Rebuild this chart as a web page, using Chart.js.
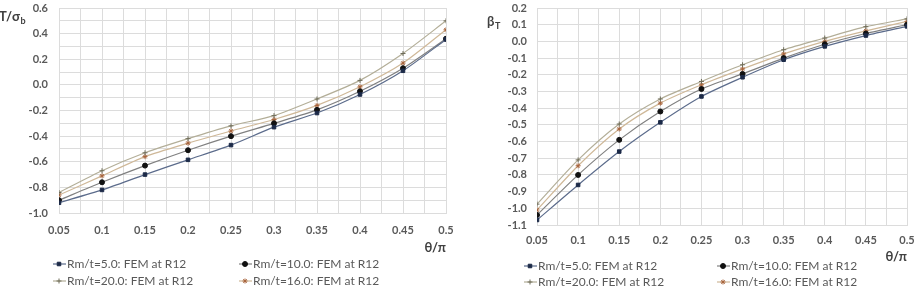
<!DOCTYPE html>
<html>
<head>
<meta charset="utf-8">
<script src="https://cdn.jsdelivr.net/npm/chart.js@4"></script>
<style>
  html, body { margin: 0; padding: 0; background: #ffffff; }
  #wrap { position: relative; width: 922px; height: 292px; overflow: hidden; }
  #c1box { position: absolute; left: 0; top: 0; width: 460px; height: 292px; }
  #c2box { position: absolute; left: 460px; top: 0; width: 462px; height: 292px; }
</style>
</head>
<body>
<div id="wrap">
  <div id="c1box"><canvas id="c1" width="460" height="292"></canvas></div>
  <div id="c2box"><canvas id="c2" width="462" height="292"></canvas></div>
</div>
<script>
// ---- data ----
const theta = [0.05, 0.1, 0.15, 0.2, 0.25, 0.3, 0.35, 0.4, 0.45, 0.5];
const seriesNames = ['Rm/t=5.0: FEM at R12', 'Rm/t=10.0: FEM at R12', 'Rm/t=20.0: FEM at R12', 'Rm/t=16.0: FEM at R12'];

// left chart: T/σb
const tau5  = [-0.92, -0.82, -0.70, -0.585, -0.47, -0.33, -0.22, -0.075, 0.11, 0.355];
const tau10 = [-0.90, -0.76, -0.63, -0.51, -0.40, -0.30, -0.195, -0.05, 0.13, 0.36];
const tau20 = [-0.84, -0.67, -0.53, -0.42, -0.32, -0.24, -0.11, 0.035, 0.245, 0.50];
const tau16 = [-0.86, -0.71, -0.56, -0.455, -0.36, -0.27, -0.16, -0.015, 0.17, 0.43];

// right chart: βT
const beta5  = [-1.07, -0.86, -0.66, -0.485, -0.33, -0.215, -0.11, -0.03, 0.035, 0.09];
const beta10 = [-1.04, -0.80, -0.59, -0.42, -0.285, -0.195, -0.10, -0.017, 0.047, 0.10];
const beta20 = [-0.975, -0.71, -0.495, -0.345, -0.24, -0.14, -0.05, 0.02, 0.088, 0.135];
const beta16 = [-1.01, -0.745, -0.525, -0.37, -0.26, -0.165, -0.075, 0.0, 0.063, 0.12];

// ---- styles ----
const styles = [
  { line: '#5b6b8b', point: '#1c2a48', pointStyle: 'rect',   radius: 2.5 },
  { line: '#808080', point: '#111111', pointStyle: 'circle', radius: 2.5 },
  { line: '#b3ae98', point: '#6f6c58', pointStyle: 'cross',  radius: 2.5 },
  { line: '#cfb898', point: '#a8643c', pointStyle: 'star',   radius: 2.5 }
];
const GRID = '#dcdcdc';
const TICK = '#595959';
const FONT = 'Lato, "Open Sans", "DejaVu Sans", sans-serif';

function mk(xs, ys) { return xs.map((x, i) => ({ x: x, y: ys[i] })); }

function datasets(arrs) {
  return arrs.map((a, i) => ({
    label: seriesNames[i],
    data: mk(theta, a),
    borderColor: styles[i].line,
    backgroundColor: styles[i].point,
    pointBackgroundColor: styles[i].point,
    pointBorderColor: styles[i].point,
    pointStyle: styles[i].pointStyle,
    pointRadius: styles[i].radius,
    pointBorderWidth: 1,
    borderWidth: 1.2,
    tension: 0.25,
    fill: false
  }));
}

// custom legend + y-axis label plugin
const decor = {
  id: 'decor',
  afterDraw(chart, args, opts) {
    const ctx = chart.ctx;
    ctx.save();
    ctx.fillStyle = '#404040';
    ctx.textBaseline = 'alphabetic';
    ctx.textAlign = 'left';
    ctx.font = 'bold 13px ' + FONT;
    ctx.fillText(opts.yMain, opts.yLabelX, opts.yLabelY);
    const w = ctx.measureText(opts.yMain).width;
    ctx.font = 'bold 9px ' + FONT;
    ctx.fillText(opts.ySub, opts.yLabelX + w + 0.5, opts.yLabelY + 3);
    chart.data.datasets.forEach((ds, i) => {
      const cx = opts.cols[i % 2];
      const cy = opts.rows[Math.floor(i / 2)];
      ctx.strokeStyle = ds.borderColor;
      ctx.lineWidth = 1.2;
      ctx.beginPath();
      ctx.moveTo(cx - 6, cy);
      ctx.lineTo(cx + 7, cy);
      ctx.stroke();
      ctx.fillStyle = ds.pointBackgroundColor;
      ctx.strokeStyle = ds.pointBorderColor;
      ctx.lineWidth = 1;
      Chart.helpers.drawPoint(ctx, { pointStyle: ds.pointStyle, radius: ds.pointRadius, borderWidth: 1, rotation: 0 }, cx, cy);
      ctx.fillStyle = TICK;
      ctx.font = '12px ' + FONT;
      ctx.textAlign = 'left';
      ctx.textBaseline = 'middle';
      ctx.fillText(ds.label, cx + 8, cy);
    });
    ctx.restore();
  }
};

function xLabel(v) {
  const k = Math.round(v / 0.05);
  if (Math.abs(k * 0.05 - v) < 1e-6) return String(+(k * 0.05).toFixed(2));
  return '';
}

function makeChart(id, dsArrs, cfg) {
  return new Chart(document.getElementById(id), {
    type: 'line',
    data: { datasets: datasets(dsArrs) },
    options: {
      responsive: false,
      animation: false,
      events: [],
      layout: { padding: { left: 0, right: cfg.padRight, top: cfg.padTop, bottom: cfg.padBottom } },
      plugins: {
        legend: { display: false },
        tooltip: { enabled: false },
        decor: cfg.decor
      },
      scales: {
        x: {
          type: 'linear',
          min: 0.05, max: 0.5,
          grid: { color: GRID, drawTicks: false, lineWidth: 1 },
          border: { color: GRID },
          ticks: {
            stepSize: 0.025, autoSkip: false, maxRotation: 0, padding: cfg.xTickPad,
            color: TICK, font: { family: FONT, size: 11, weight: 'bold' },
            callback: (v) => xLabel(v)
          },
          title: {
            display: true, text: 'θ/π', align: 'end', color: '#404040',
            font: { family: FONT, size: 13, weight: 'bold' }, padding: 0
          },
          afterFit: (s) => { s.height = cfg.xHeight; s.paddingLeft = 0; s.paddingRight = 0; }
        },
        y: {
          min: cfg.yMin, max: cfg.yMax,
          grid: { color: GRID, drawTicks: false, lineWidth: 1 },
          border: { color: GRID },
          ticks: {
            stepSize: 0.1, autoSkip: false, padding: cfg.yTickPad,
            color: TICK, font: { family: FONT, size: 11, weight: 'bold' },
            callback: cfg.yCallback
          },
          afterFit: (s) => { s.width = cfg.yWidth; s.paddingTop = 0; s.paddingBottom = 0; }
        }
      }
    },
    plugins: [decor]
  });
}

makeChart('c1', [tau5, tau10, tau20, tau16], {
  padRight: 14, padTop: 8, padBottom: 36, xTickPad: 11, xHeight: 43, yWidth: 59, yTickPad: 11,
  yMin: -1.0, yMax: 0.6,
  yCallback: (v) => {
    const k = Math.round(v / 0.2);
    if (Math.abs(k * 0.2 - v) < 1e-6) return (k * 0.2).toFixed(1);
    return '';
  },
  decor: { yMain: 'T/σ', ySub: 'b', yLabelX: -1, yLabelY: 21, cols: [59, 245], rows: [264, 281] }
});

makeChart('c2', [beta5, beta10, beta20, beta16], {
  padRight: 15, padTop: 8, padBottom: 27, xTickPad: 9, xHeight: 40, yWidth: 77, yTickPad: 10,
  yMin: -1.1, yMax: 0.2,
  yCallback: (v) => (Math.abs(v) < 1e-9 ? 0 : v).toFixed(1),
  decor: { yMain: 'β', ySub: 'T', yLabelX: 27, yLabelY: 26, cols: [70, 263], rows: [266, 282] }
});
</script>
</body>
</html>
